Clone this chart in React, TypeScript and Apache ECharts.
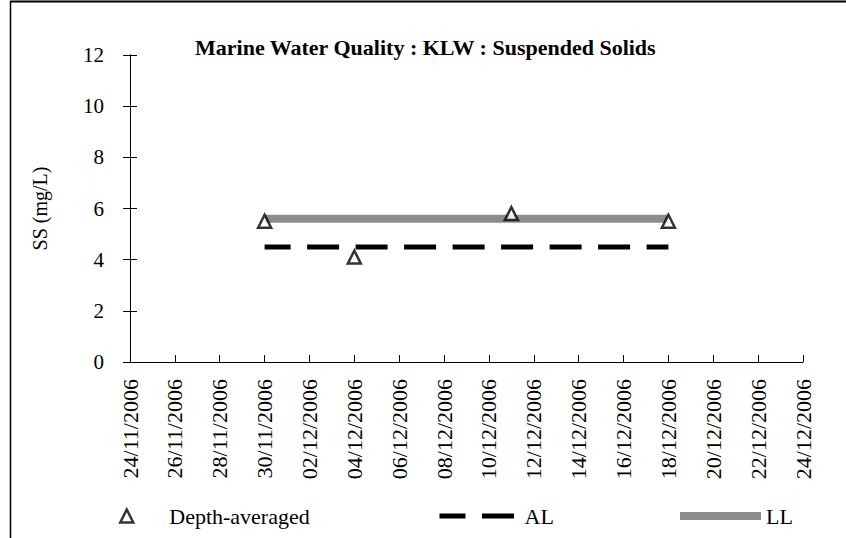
import { useEffect, useRef } from 'react';
import * as echarts from 'echarts';

// ---- data ----
const axisStartDate = '24/11/2006';
const axisEndDate = '24/12/2006';
const sampleDates = ['30/11/2006', '04/12/2006', '11/12/2006', '18/12/2006'];
const depthAveraged = [5.5, 4.1, 5.8, 5.5];
const limitDates = ['30/11/2006', '18/12/2006'];
const actionLevel = [4.5, 4.5];
const limitLevel = [5.6, 5.6];
const yMin = 0;
const yMax = 12;
const yStep = 2;
const xStepDays = 2;

const DAY = 86400000;
function parseDate(s: string) {
  const [d, m, y] = s.split('/').map(Number);
  return Date.UTC(y, m - 1, d);
}
const base = parseDate(axisStartDate);
function dayIndex(s: string) {
  return Math.round((parseDate(s) - base) / DAY);
}
function pad(n: number) {
  return n < 10 ? '0' + n : String(n);
}
function dayLabel(n: number) {
  const dt = new Date(base + Math.round(n) * DAY);
  return pad(dt.getUTCDate()) + '/' + pad(dt.getUTCMonth() + 1) + '/' + dt.getUTCFullYear();
}

const FONT = '"Liberation Serif", "Times New Roman", serif';

export default function App() {
  const ref = useRef<HTMLDivElement>(null);
  useEffect(() => {
    if (!ref.current) return;
    const chart = echarts.init(ref.current, null, { renderer: 'svg' });
    const depthData = sampleDates.map((d, i) => [dayIndex(d), depthAveraged[i]]);
    const alData = limitDates.map((d, i) => [dayIndex(d), actionLevel[i]]);
    const llData = limitDates.map((d, i) => [dayIndex(d), limitLevel[i]]);
    const axisLine = { show: true, lineStyle: { color: '#000', width: 1 } };
    const hiddenSymbol = { color: 'rgba(0,0,0,0)', borderColor: 'rgba(0,0,0,0)', borderWidth: 0, opacity: 0 };
    chart.setOption({
      animation: false,
      backgroundColor: '#fff',
      textStyle: { fontFamily: FONT, color: '#000' },
      title: {
        text: 'Marine Water Quality : KLW : Suspended Solids',
        left: 190,
        top: 31,
        textStyle: { fontFamily: FONT, fontSize: 22, fontWeight: 'bold', color: '#000' },
      },
      grid: { left: 130, right: 43, top: 55, bottom: 176, containLabel: false },
      xAxis: {
        type: 'value',
        min: 0,
        max: dayIndex(axisEndDate),
        interval: xStepDays,
        axisLine,
        axisTick: { show: true, inside: true, length: 7, lineStyle: { color: '#000' } },
        axisLabel: {
          rotate: 90,
          margin: 17,
          fontFamily: FONT,
          fontSize: 22,
          color: '#000',
          formatter: (v: number) => dayLabel(v),
        },
        splitLine: { show: false },
      },
      yAxis: [
        {
          type: 'value',
          min: yMin,
          max: yMax,
          interval: yStep,
          position: 'left',
          name: 'SS (mg/L)',
          nameLocation: 'middle',
          nameGap: 80,
          nameRotate: 90,
          nameTextStyle: { fontFamily: FONT, fontSize: 20, color: '#000' },
          axisLine,
          axisTick: { show: true, inside: false, length: 7, lineStyle: { color: '#000' } },
          axisLabel: { fontFamily: FONT, fontSize: 21, color: '#000', margin: 26 },
          splitLine: { show: false },
        },
        {
          type: 'value',
          min: yMin,
          max: yMax,
          interval: yStep,
          position: 'left',
          axisLine,
          axisTick: { show: true, inside: true, length: 7, lineStyle: { color: '#000' } },
          axisLabel: { show: false },
          splitLine: { show: false },
        },
      ],
      legend: [
        {
          data: ['Depth-averaged'],
          left: 114,
          top: 500,
          selectedMode: false,
          itemWidth: 13,
          itemHeight: 13,
          itemStyle: { color: '#fff', borderColor: '#000', borderWidth: 2.5 },
          textStyle: { fontFamily: FONT, fontSize: 22, color: '#000', padding: [0, 0, 0, 31] },
        },
        {
          data: ['AL'],
          left: 432,
          top: 500,
          selectedMode: false,
          itemWidth: 80,
          itemHeight: 14,
          itemStyle: hiddenSymbol,
          lineStyle: { width: 5, color: '#000', type: [32, 16.5] },
          textStyle: { fontFamily: FONT, fontSize: 22, color: '#000' },
        },
        {
          data: ['LL'],
          left: 671,
          top: 500,
          selectedMode: false,
          itemWidth: 81,
          itemHeight: 14,
          itemStyle: hiddenSymbol,
          lineStyle: { width: 8, color: '#8c8c8c' },
          textStyle: { fontFamily: FONT, fontSize: 22, color: '#000' },
        },
      ],
      series: [
        {
          name: 'LL',
          type: 'line',
          data: llData,
          symbol: 'none',
          z: 1,
          lineStyle: { color: '#8c8c8c', width: 8 },
          itemStyle: { color: '#8c8c8c' },
        },
        {
          name: 'AL',
          type: 'line',
          data: alData,
          symbol: 'none',
          z: 2,
          lineStyle: { color: '#000', width: 5, type: [32, 16.5], dashOffset: 6 },
          itemStyle: { color: '#000' },
        },
        {
          name: 'Depth-averaged',
          type: 'scatter',
          data: depthData,
          symbol: 'triangle',
          symbolSize: 13,
          z: 3,
          itemStyle: { color: '#fff', borderColor: '#000', borderWidth: 2.5 },
        },
      ],
      graphic: [
        { type: 'line', z: 100, shape: { x1: 10, y1: 1.5, x2: 846, y2: 1.5 }, style: { stroke: '#000', lineWidth: 2 } },
        { type: 'line', z: 100, shape: { x1: 10.5, y1: 1, x2: 10.5, y2: 538 }, style: { stroke: '#000', lineWidth: 1.5 } },
      ],
    });
    return () => chart.dispose();
  }, []);
  return (
    <div
      ref={ref}
      style={{ position: 'absolute', left: 0, top: 0, width: 846, height: 538 }}
    />
  );
}
